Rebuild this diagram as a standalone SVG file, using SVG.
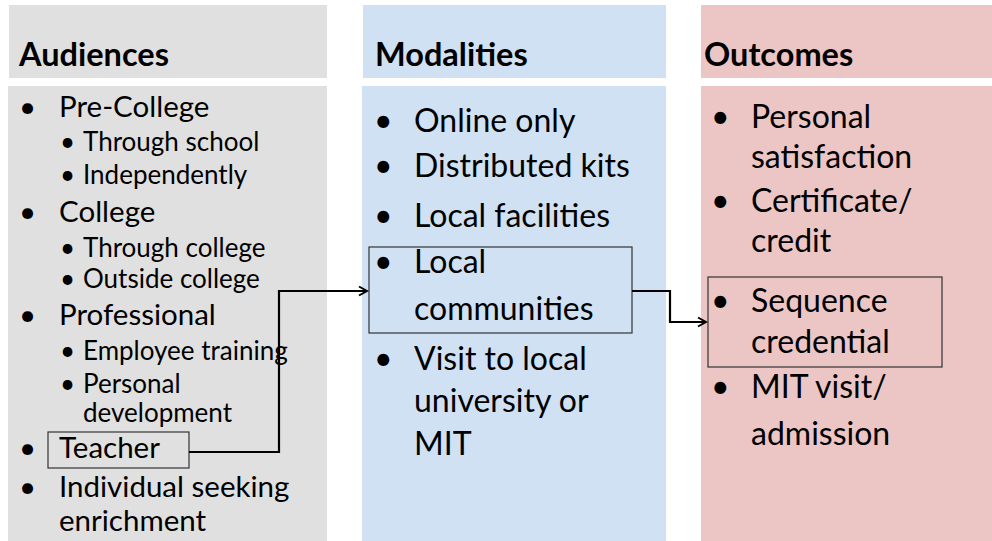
<svg xmlns="http://www.w3.org/2000/svg" width="992" height="541" viewBox="0 0 992 541">
<style>
.h{font-family:Lato,"Liberation Sans",sans-serif;font-weight:bold;font-size:32.5px;fill:#000}
.a{font-family:Lato,"Liberation Sans",sans-serif;font-size:29.5px;fill:#000}
.m{font-family:Lato,"Liberation Sans",sans-serif;font-size:32px;fill:#000}
.s{font-family:Lato,"Liberation Sans",sans-serif;font-size:26px;fill:#000}
.hl{fill:none;stroke:#333;stroke-width:1.2}
.c{fill:none;stroke:#000;stroke-width:2.2}
</style>
<defs>
<marker id="arr" markerWidth="12" markerHeight="12" refX="10" refY="6" orient="auto" markerUnits="userSpaceOnUse">
<path d="M2,1.5 L10,6 L2,10.5" fill="none" stroke="#000" stroke-width="2"/>
</marker>
</defs>
<rect width="992" height="541" fill="#fff"/>
<g id="audiences">
<rect x="9" y="5" width="318" height="73" fill="#e0e0e0"/>
<rect x="8" y="86" width="319" height="455" fill="#e0e0e0"/>
<text class="h" x="19" y="66">Audiences</text>
<text class="a" x="19" y="117">•</text><text class="a" x="59" y="117">Pre-College</text>
<text class="s" x="60" y="151">•</text><text class="s" x="83" y="151">Through school</text>
<text class="s" x="60" y="184">•</text><text class="s" x="83" y="184">Independently</text>
<text class="a" x="19" y="222">•</text><text class="a" x="59" y="222">College</text>
<text class="s" x="60" y="257">•</text><text class="s" x="83" y="257">Through college</text>
<text class="s" x="60" y="288">•</text><text class="s" x="83" y="288">Outside college</text>
<text class="a" x="19" y="325">•</text><text class="a" x="59" y="325">Professional</text>
<text class="s" x="60" y="360">•</text><text class="s" x="83" y="360">Employee training</text>
<text class="s" x="60" y="393">•</text><text class="s"><tspan x="83" y="393">Personal</tspan><tspan x="83" y="422">development</tspan></text>
<text class="a" x="19" y="458">•</text><text class="a" x="59" y="458">Teacher</text>
<rect class="hl" x="48" y="432" width="141" height="36"/>
<text class="a" x="19" y="497">•</text><text class="a"><tspan x="59" y="497">Individual seeking</tspan><tspan x="59" y="531">enrichment</tspan></text>
</g>
<g id="modalities">
<rect x="363" y="5" width="303" height="73" fill="#d0e1f3"/>
<rect x="362" y="86" width="304" height="455" fill="#d0e1f3"/>
<text class="h" x="375" y="66">Modalities</text>
<text class="m" x="374" y="132">•</text><text class="m" x="414" y="132">Online only</text>
<text class="m" x="374" y="177">•</text><text class="m" x="414" y="177">Distributed kits</text>
<text class="m" x="374" y="227">•</text><text class="m" x="414" y="227">Local facilities</text>
<text class="m" x="374" y="273">•</text><text class="m"><tspan x="414" y="273">Local</tspan><tspan x="414" y="320">communities</tspan></text>
<rect class="hl" x="369" y="247" width="263" height="86"/>
<text class="m" x="374" y="370">•</text><text class="m"><tspan x="414" y="370">Visit to local</tspan><tspan x="414" y="412">university or</tspan><tspan x="414" y="455">MIT</tspan></text>
</g>
<g id="outcomes">
<rect x="701" y="5" width="291" height="73" fill="#ecc6c5"/>
<rect x="701" y="86" width="291" height="455" fill="#ecc6c5"/>
<text class="h" x="704" y="66">Outcomes</text>
<text class="m" x="711" y="128">•</text><text class="m"><tspan x="751" y="128">Personal</tspan><tspan x="751" y="168">satisfaction</tspan></text>
<text class="m" x="711" y="212">•</text><text class="m"><tspan x="751" y="212">Certificate/</tspan><tspan x="751" y="252">credit</tspan></text>
<text class="m" x="711" y="312">•</text><text class="m"><tspan x="751" y="312">Sequence</tspan><tspan x="751" y="353">credential</tspan></text>
<rect class="hl" x="708" y="277" width="234" height="90"/>
<text class="m" x="711" y="398">•</text><text class="m"><tspan x="751" y="398">MIT visit/</tspan><tspan x="751" y="445">admission</tspan></text>
</g>
<g id="connectors">
<path class="c" d="M189,452 H279 V291 H367" marker-end="url(#arr)"/>
<path class="c" d="M632,291 H670 V322 H706" marker-end="url(#arr)"/>
</g>
</svg>
